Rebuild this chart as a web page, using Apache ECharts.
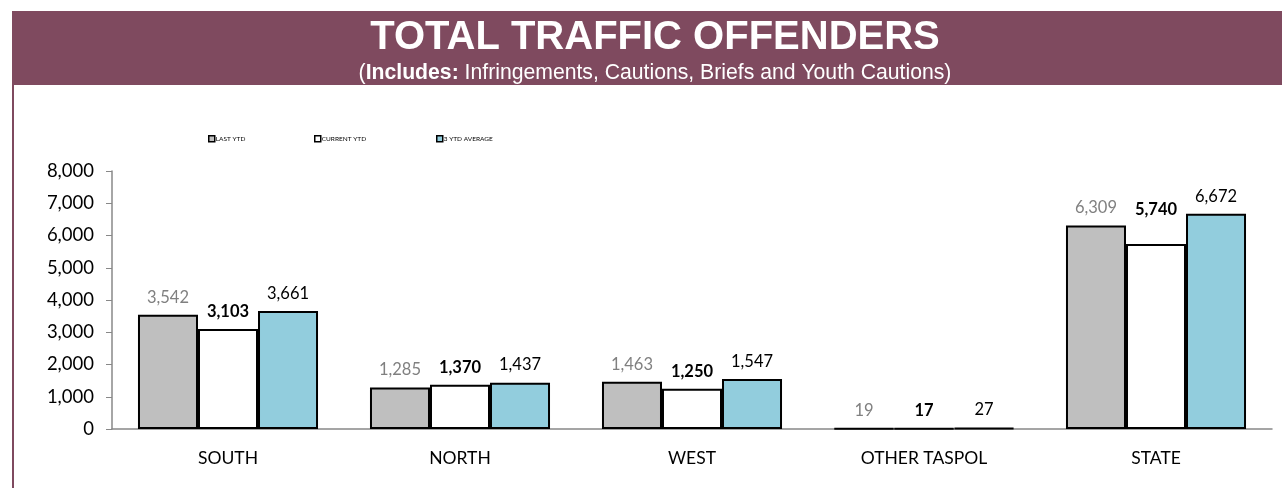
<!DOCTYPE html>
<html>
<head>
<meta charset="utf-8">
<script src="https://cdn.jsdelivr.net/npm/echarts@6/dist/echarts.min.js"></script>
<style>
  html, body { margin: 0; padding: 0; background: #fff; }
  #chart { width: 1282px; height: 488px; }
</style>
</head>
<body>
<div id="chart"></div>
<script>
// Regions and yearly offender counts
const categories = ['SOUTH', 'NORTH', 'WEST', 'OTHER TASPOL', 'STATE'];
const lastYtd = [3542, 1285, 1463, 19, 6309];
const currentYtd = [3103, 1370, 1250, 17, 5740];
const avg3Ytd = [3661, 1437, 1547, 27, 6672];
const yTicks = [0, 1000, 2000, 3000, 4000, 5000, 6000, 7000, 8000];

const MAROON = '#7f4a5f';
const fmt = v => v.toLocaleString('en-US');
const labelFont = 'Lato, "Open Sans", sans-serif';
const headFont = '"Liberation Sans", Arial, sans-serif';

// liftIdx: index of a label raised further so it clears its neighbours' labels
function barSeries(name, data, fill, labelColor, labelWeight, liftIdx) {
  return {
    name: name,
    type: 'bar',
    data: data.map((v, i) => i === liftIdx ? { value: v, label: { offset: [0, -17] } } : v),
    barGap: '0%',
    barCategoryGap: '22.4%',
    itemStyle: { color: fill, borderColor: '#000', borderWidth: 2 },
    label: {
      show: true,
      position: 'top',
      distance: 9,
      formatter: p => fmt(p.value),
      color: labelColor,
      fontWeight: labelWeight,
      fontSize: 16.5,
      fontFamily: labelFont
    }
  };
}

function legendAt(name, left) {
  return {
    data: [name],
    left: left,
    top: 135,
    icon: 'rect',
    itemWidth: 6,
    itemHeight: 6,
    itemGap: 0,
    padding: 0,
    itemStyle: { borderColor: '#000', borderWidth: 1.5 },
    textStyle: { fontSize: 6.5, color: '#000', fontFamily: labelFont, padding: [0, 0, 0, -4] }
  };
}

const chart = echarts.init(document.getElementById('chart'), null, { renderer: 'canvas' });
chart.setOption({
  animation: false,
  backgroundColor: '#fff',
  graphic: [
    { type: 'rect', left: 12, top: 11, shape: { width: 1270, height: 74 }, style: { fill: MAROON }, silent: true },
    { type: 'rect', left: 12, top: 85, shape: { width: 2, height: 403 }, style: { fill: MAROON }, silent: true },
    {
      type: 'text', x: 655, y: 38,
      style: {
        text: 'TOTAL TRAFFIC OFFENDERS',
        fill: '#fff',
        font: 'bold 40px ' + headFont,
        align: 'center',
        verticalAlign: 'middle'
      }
    },
    {
      type: 'text', x: 655, y: 73,
      style: {
        text: '({b|Includes:} Infringements, Cautions, Briefs and Youth Cautions)',
        fill: '#fff',
        font: '21.2px ' + headFont,
        align: 'center',
        verticalAlign: 'middle',
        rich: {
          b: { fontWeight: 'bold', fontSize: 21.2, fill: '#fff', fontFamily: headFont }
        }
      }
    }
  ],
  legend: [
    legendAt('LAST YTD', 208),
    legendAt('CURRENT YTD', 314),
    legendAt('3 YTD AVERAGE', 436)
  ],
  grid: { left: 112, right: 10, top: 171, bottom: 59, containLabel: false },
  xAxis: {
    type: 'category',
    data: categories,
    axisLine: { lineStyle: { color: '#888', width: 1.5 } },
    axisTick: { show: false },
    axisLabel: { color: '#000', fontSize: 17.5, fontFamily: labelFont, margin: 20 }
  },
  yAxis: {
    type: 'value',
    min: yTicks[0],
    max: yTicks[yTicks.length - 1],
    interval: 1000,
    splitLine: { show: false },
    axisLine: { show: true, lineStyle: { color: '#888', width: 1.5 } },
    axisTick: { show: true, length: 6, lineStyle: { color: '#888' } },
    axisLabel: { color: '#000', fontSize: 18.5, fontFamily: labelFont, margin: 18, formatter: v => fmt(v) }
  },
  series: [
    barSeries('LAST YTD', lastYtd, '#bfbfbf', '#808080', 'normal', -1),
    barSeries('CURRENT YTD', currentYtd, '#ffffff', '#000', 'bold', 4),
    barSeries('3 YTD AVERAGE', avg3Ytd, '#92cddd', '#000', 'normal', -1)
  ]
});
</script>
</body>
</html>
